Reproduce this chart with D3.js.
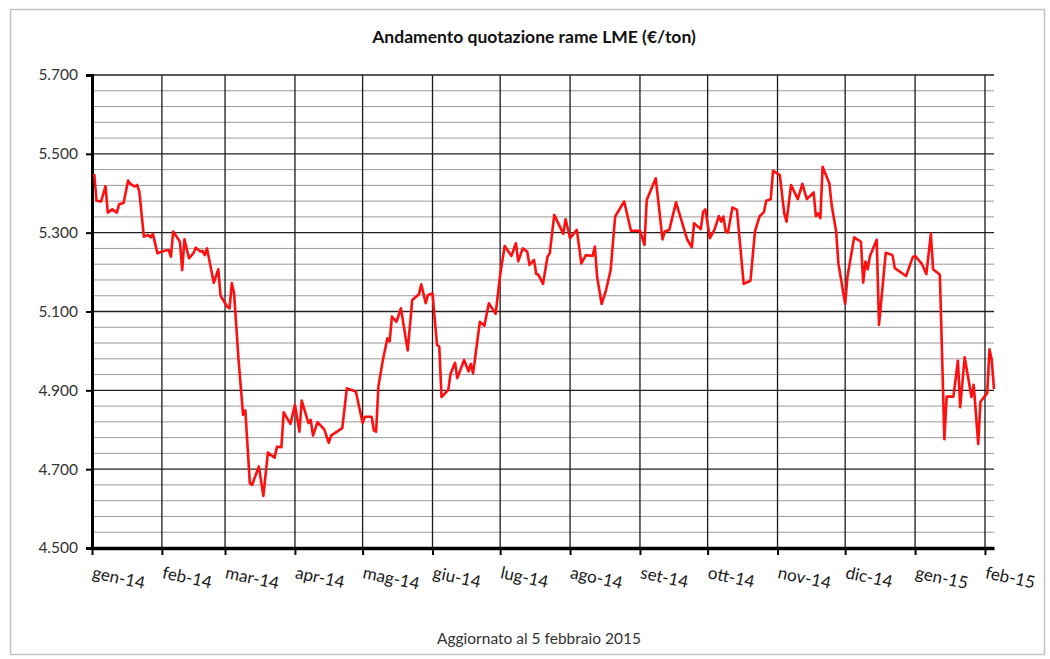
<!DOCTYPE html>
<html>
<head>
<meta charset="utf-8">
<script src="https://cdn.jsdelivr.net/npm/d3@7"></script>
<style>
  body { margin: 0; background: #fff; }
  svg { display: block; font-family: Lato, "Open Sans", sans-serif; }
</style>
</head>
<body>
<svg id="chart"></svg>
<script>
// Data: LME copper price (EUR/ton)
const DATES = [
  "2014-01-02","2014-01-03","2014-01-05","2014-01-07","2014-01-08","2014-01-10","2014-01-12","2014-01-13","2014-01-15","2014-01-17",
  "2014-01-18","2014-01-20","2014-01-21","2014-01-22","2014-01-24","2014-01-26","2014-01-27","2014-01-28","2014-01-30","2014-02-02",
  "2014-02-04","2014-02-05","2014-02-06","2014-02-09","2014-02-10","2014-02-11","2014-02-13","2014-02-15","2014-02-16","2014-02-18",
  "2014-02-19","2014-02-20","2014-02-21","2014-02-22","2014-02-24","2014-02-26","2014-02-27","2014-03-02","2014-03-03","2014-03-04",
  "2014-03-05","2014-03-07","2014-03-09","2014-03-10","2014-03-12","2014-03-13","2014-03-16","2014-03-18","2014-03-20","2014-03-23",
  "2014-03-24","2014-03-26","2014-03-27","2014-03-30","2014-04-01","2014-04-03","2014-04-04","2014-04-07","2014-04-08","2014-04-09",
  "2014-04-11","2014-04-14","2014-04-16","2014-04-17","2014-04-22","2014-04-24","2014-04-27","2014-04-28","2014-05-01","2014-05-02",
  "2014-05-05","2014-05-06","2014-05-07","2014-05-08","2014-05-10","2014-05-12","2014-05-13","2014-05-14","2014-05-16","2014-05-18",
  "2014-05-21","2014-05-23","2014-05-26","2014-05-27","2014-05-29","2014-05-30","2014-06-01","2014-06-03","2014-06-04","2014-06-05",
  "2014-06-08","2014-06-09","2014-06-11","2014-06-12","2014-06-15","2014-06-17","2014-06-18","2014-06-19","2014-06-22","2014-06-24",
  "2014-06-26","2014-06-29","2014-07-01","2014-07-03","2014-07-06","2014-07-08","2014-07-09","2014-07-11","2014-07-13","2014-07-14",
  "2014-07-16","2014-07-17","2014-07-18","2014-07-20","2014-07-22","2014-07-23","2014-07-25","2014-07-29","2014-07-30","2014-08-01",
  "2014-08-04","2014-08-06","2014-08-08","2014-08-11","2014-08-12","2014-08-13","2014-08-15","2014-08-17","2014-08-19","2014-08-21",
  "2014-08-25","2014-08-28","2014-09-01","2014-09-03","2014-09-04","2014-09-08","2014-09-11","2014-09-12","2014-09-14","2014-09-17",
  "2014-09-22","2014-09-24","2014-09-25","2014-09-28","2014-09-29","2014-09-30","2014-10-02","2014-10-04","2014-10-06","2014-10-07",
  "2014-10-08","2014-10-09","2014-10-10","2014-10-12","2014-10-14","2014-10-17","2014-10-20","2014-10-22","2014-10-24","2014-10-26",
  "2014-10-27","2014-10-29","2014-10-30","2014-11-02","2014-11-04","2014-11-05","2014-11-07","2014-11-10","2014-11-12","2014-11-14",
  "2014-11-17","2014-11-18","2014-11-19","2014-11-20","2014-11-21","2014-11-24","2014-11-25","2014-11-27","2014-11-28","2014-12-01",
  "2014-12-02","2014-12-05","2014-12-08","2014-12-09","2014-12-10","2014-12-11","2014-12-12","2014-12-15","2014-12-16","2014-12-19",
  "2014-12-22","2014-12-23","2014-12-28","2014-12-31","2015-01-01","2015-01-04","2015-01-06","2015-01-08","2015-01-09","2015-01-12",
  "2015-01-14","2015-01-15","2015-01-18","2015-01-20","2015-01-21","2015-01-23","2015-01-26","2015-01-27","2015-01-29","2015-01-30",
  "2015-02-02","2015-02-03","2015-02-04","2015-02-05"
];
const PRICES = [
  5449,5381,5379,5418,5351,5359,5351,5372,5375,5432,
  5424,5417,5421,5404,5290,5294,5288,5297,5248,5254,
  5256,5239,5303,5277,5205,5283,5235,5248,5262,5252,
  5254,5243,5260,5231,5173,5207,5140,5112,5108,5172,
  5146,4977,4838,4849,4664,4660,4707,4632,4742,4729,
  4757,4756,4844,4815,4863,4795,4874,4817,4825,4785,
  4819,4801,4767,4785,4804,4905,4899,4897,4817,4833,
  4833,4798,4795,4910,4977,5032,5024,5087,5074,5108,
  5001,5129,5144,5169,5121,5142,5146,5015,5011,4883,
  4901,4942,4970,4931,4977,4948,4967,4943,5074,5064,
  5121,5094,5193,5266,5241,5273,5227,5260,5252,5218,
  5231,5195,5193,5170,5239,5248,5345,5297,5334,5286,
  5307,5222,5243,5241,5265,5188,5119,5155,5205,5341,
  5379,5305,5305,5269,5383,5438,5283,5303,5307,5377,
  5282,5263,5324,5309,5353,5359,5286,5307,5342,5328,
  5341,5303,5300,5364,5358,5170,5178,5303,5341,5353,
  5381,5385,5457,5446,5349,5328,5421,5385,5424,5385,
  5402,5342,5349,5337,5467,5425,5370,5303,5222,5119,
  5188,5288,5277,5173,5227,5207,5241,5282,5066,5249,
  5243,5210,5190,5238,5241,5221,5195,5297,5207,5193,
  4776,4884,4884,4975,4857,4984,4883,4914,4764,4871,
  4893,5004,4977,4903
];
const MONTH_TICKS = ["2014-01-01","2014-02-01","2014-03-01","2014-04-01","2014-05-01","2014-06-01","2014-07-01",
  "2014-08-01","2014-09-01","2014-10-01","2014-11-01","2014-12-01","2015-01-01","2015-02-01"];
const MONTH_LABELS = ["gen-14","feb-14","mar-14","apr-14","mag-14","giu-14","lug-14",
  "ago-14","set-14","ott-14","nov-14","dic-14","gen-15","feb-15"];
const Y_MAJOR = [4500, 4700, 4900, 5100, 5300, 5500, 5700];
const TITLE = "Andamento quotazione rame LME (€/ton)";
const NOTE = "Aggiornato al 5 febbraio 2015";

const WIDTH = 1050;
const HEIGHT = 659;
const M = { left: 92, right: 994, top: 75, bottom: 548 };

const parse = d3.utcParse("%Y-%m-%d");
const data = DATES.map((d, i) => ({ date: parse(d), value: PRICES[i] }));

const svg = d3.select("#chart")
  .attr("width", WIDTH)
  .attr("height", HEIGHT);

// outer frame
svg.append("rect")
  .attr("x", 10.5).attr("y", 9.5)
  .attr("width", 1034).attr("height", 645)
  .attr("fill", "#fff")
  .attr("stroke", "#c4c4c4")
  .attr("stroke-width", 1.5);

// Scales
const x = d3.scaleUtc()
  .domain([parse("2014-01-01"), parse("2015-02-05")])
  .range([M.left, M.right]);

const y = d3.scaleLinear()
  .domain([4500, 5700])
  .range([M.bottom, M.top]);

// minor grid (every 40)
const minor = d3.range(4540, 5700, 40).filter(v => (v - 4500) % 200 !== 0);
svg.append("g")
  .selectAll("line")
  .data(minor)
  .join("line")
  .attr("x1", M.left).attr("x2", M.right)
  .attr("y1", d => y(d)).attr("y2", d => y(d))
  .attr("stroke", "#9a9a9a")
  .attr("stroke-width", 1);

// major horizontal grid
svg.append("g")
  .selectAll("line")
  .data(Y_MAJOR.slice(1))
  .join("line")
  .attr("x1", M.left).attr("x2", M.right)
  .attr("y1", d => y(d)).attr("y2", d => y(d))
  .attr("stroke", "#222")
  .attr("stroke-width", 1.4);

// vertical month grid
svg.append("g")
  .selectAll("line")
  .data(MONTH_TICKS.slice(1))
  .join("line")
  .attr("x1", d => x(parse(d))).attr("x2", d => x(parse(d)))
  .attr("y1", M.top).attr("y2", M.bottom)
  .attr("stroke", "#1a1a1a")
  .attr("stroke-width", 1.3);

// Y axis
const yAxis = svg.append("g")
  .attr("transform", `translate(${M.left},0)`)
  .call(d3.axisLeft(y)
    .tickValues(Y_MAJOR)
    .tickSize(6)
    .tickPadding(8)
    .tickFormat(d => d3.format(",")(d).replace(",", ".")));
yAxis.select(".domain").attr("stroke", "#000").attr("stroke-width", 3);
yAxis.selectAll(".tick line").attr("stroke", "#000").attr("stroke-width", 2);
yAxis.selectAll("text")
  .attr("font-size", 15.5)
  .attr("fill", "#333")
  .attr("font-family", "Lato, sans-serif");

// X axis
const xAxis = svg.append("g")
  .attr("transform", `translate(0,${M.bottom})`)
  .call(d3.axisBottom(x)
    .tickValues(MONTH_TICKS.map(parse))
    .tickSizeInner(7)
    .tickSizeOuter(0)
    .tickFormat((d, i) => MONTH_LABELS[i]));
xAxis.select(".domain").attr("stroke", "#000").attr("stroke-width", 3.5);
xAxis.selectAll(".tick line").attr("stroke", "#000").attr("stroke-width", 2);
xAxis.selectAll("text")
  .attr("font-size", 17)
  .attr("fill", "#1a1a1a")
  .attr("font-family", "Lato, sans-serif")
  .attr("text-anchor", "start")
  .attr("dy", 0)
  .attr("y", 0)
  .attr("transform", "translate(-1,30) rotate(12)");

// Price line
const line = d3.line()
  .x(d => x(d.date))
  .y(d => y(d.value));

svg.append("path")
  .datum(data)
  .attr("d", line)
  .attr("fill", "none")
  .attr("stroke", "#ff1010")
  .attr("stroke-width", 2.6)
  .attr("stroke-linejoin", "round");

// Title
svg.append("text")
  .attr("x", 534).attr("y", 43)
  .attr("text-anchor", "middle")
  .attr("font-size", 17.5)
  .attr("font-weight", "bold")
  .attr("fill", "#111")
  .text(TITLE);

// Footnote
svg.append("text")
  .attr("x", 539).attr("y", 644)
  .attr("text-anchor", "middle")
  .attr("font-size", 15.5)
  .attr("fill", "#333")
  .text(NOTE);
</script>
</body>
</html>
